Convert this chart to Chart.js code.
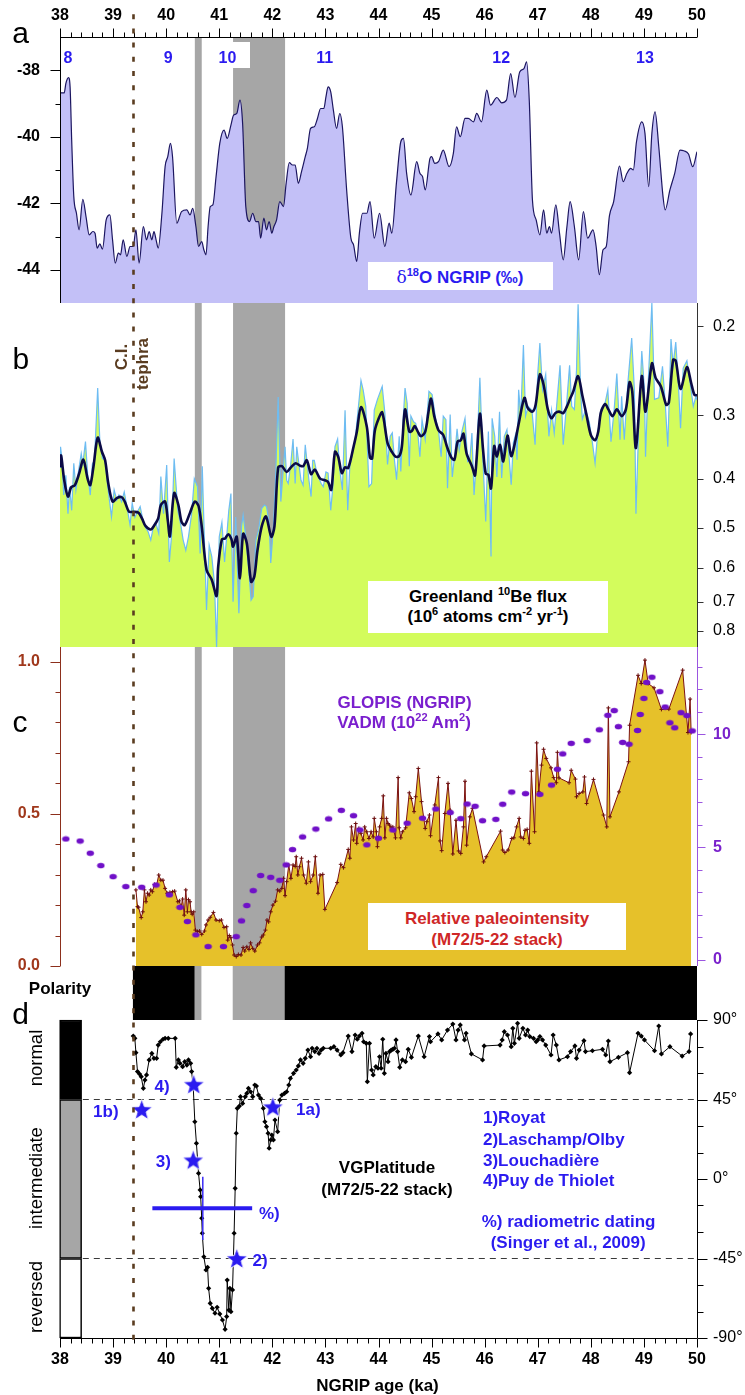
<!DOCTYPE html>
<html>
<head>
<meta charset="utf-8">
<title>NGRIP records around the Laschamp excursion</title>
<script src="https://cdn.jsdelivr.net/npm/chart.js@4.4.1/dist/chart.umd.min.js"></script>
<style>
  body { margin: 0; background: #fff; }
  #page { position: relative; width: 745px; height: 1395px; overflow: hidden; font-family: "Liberation Sans", Arial, sans-serif; }
  #page canvas { position: absolute; left: 0; }
  .lbl { position: absolute; white-space: nowrap; line-height: 1; transform: translate(-50%, -50%); font-weight: bold; font-size: 17px; }
  .lbl.left { transform: translate(0, -50%); }
  .lbl.rot { transform: translate(-50%, -50%) rotate(-90deg); }
  .box { position: absolute; background: #fff; }
  .panel { font-weight: normal; font-size: 30px; }
  .blue { color: #2b1bf0; }
  .purple { color: #7a1fce; }
  .red { color: #cf2727; }
  .brown { color: #5a3c20; }
  .word { font-weight: normal; font-size: 18.5px; }
  sup { font-size: 0.65em; line-height: 0; vertical-align: 0.55em; }
</style>
</head>
<body>
<div id="page">
  <canvas id="cA" width="745" height="303" style="top:0px"></canvas>
  <canvas id="cB" width="745" height="344" style="top:303px"></canvas>
  <canvas id="cC" width="745" height="333" style="top:647px"></canvas>
  <canvas id="cP" width="745" height="54" style="top:966px"></canvas>
  <canvas id="cD" width="745" height="395" style="top:1000px"></canvas>

  <div class="lbl panel" style="left:20.5px;top:32.6px">a</div>
  <div class="lbl panel" style="left:20.8px;top:358.6px">b</div>
  <div class="lbl panel" style="left:20px;top:721.6px">c</div>
  <div class="lbl panel" style="left:20.5px;top:1013.6px">d</div>

  <div class="box" style="left:213px;top:42px;width:37px;height:26px"></div>
  <div class="lbl blue" style="left:68px;top:57.5px;font-size:16px">8</div>
  <div class="lbl blue" style="left:168.3px;top:57.5px;font-size:16px">9</div>
  <div class="lbl blue" style="left:227.5px;top:57.5px;font-size:16px">10</div>
  <div class="lbl blue" style="left:324.7px;top:57.5px;font-size:16px">11</div>
  <div class="lbl blue" style="left:501.2px;top:57.5px;font-size:16px">12</div>
  <div class="lbl blue" style="left:645px;top:57.5px;font-size:16px">13</div>

  <div class="box" style="left:368px;top:262px;width:185px;height:28px"></div>
  <div class="lbl blue" style="left:460px;top:276.5px"><span style="font-weight:normal;font-family:'DejaVu Serif',serif">δ</span><sup>18</sup>O NGRIP (‰)</div>

  <div class="lbl rot brown" style="left:120.8px;top:357px">C.I.</div>
  <div class="lbl rot brown" style="left:141.7px;top:364px">tephra</div>

  <div class="box" style="left:368px;top:581px;width:240px;height:52px"></div>
  <div class="lbl" style="left:488px;top:595.5px">Greenland <sup>10</sup>Be flux</div>
  <div class="lbl" style="left:488px;top:616px">(10<sup>6</sup> atoms cm<sup>-2</sup> yr<sup>-1</sup>)</div>

  <div class="lbl purple" style="left:404.5px;top:702px">GLOPIS (NGRIP)</div>
  <div class="lbl purple" style="left:404px;top:722.3px">VADM (10<sup>22</sup> Am<sup>2</sup>)</div>

  <div class="box" style="left:368px;top:903px;width:258px;height:47px"></div>
  <div class="lbl red" style="left:497px;top:918.3px">Relative paleointensity</div>
  <div class="lbl red" style="left:497px;top:939px">(M72/5-22 stack)</div>

  <div class="lbl" style="left:60px;top:988px">Polarity</div>

  <div class="lbl rot word" style="left:36px;top:1058.3px">normal</div>
  <div class="lbl rot word" style="left:36px;top:1178px">intermediate</div>
  <div class="lbl rot word" style="left:36px;top:1297.3px">reversed</div>

  <div class="lbl" style="left:387px;top:1167px">VGPlatitude</div>
  <div class="lbl" style="left:387px;top:1189px">(M72/5-22 stack)</div>

  <div class="lbl blue" style="left:162px;top:1085.7px">4)</div>
  <div class="lbl blue" style="left:105.8px;top:1110.5px">1b)</div>
  <div class="lbl blue" style="left:308.3px;top:1108.8px">1a)</div>
  <div class="lbl blue" style="left:163.3px;top:1160.7px">3)</div>
  <div class="lbl blue" style="left:260px;top:1259.5px">2)</div>
  <div class="lbl blue" style="left:269.3px;top:1213.3px">%)</div>

  <div class="lbl left blue" style="left:483px;top:1117.3px">1)Royat</div>
  <div class="lbl left blue" style="left:483px;top:1138.8px">2)Laschamp/Olby</div>
  <div class="lbl left blue" style="left:483px;top:1159.5px">3)Louchadière</div>
  <div class="lbl left blue" style="left:483px;top:1179.5px">4)Puy de Thiolet</div>
  <div class="lbl left blue" style="left:481.7px;top:1220.8px">%) radiometric dating</div>
  <div class="lbl left blue" style="left:490.7px;top:1241.7px">(Singer et al., 2009)</div>

  <div class="lbl" style="left:377.5px;top:1385px">NGRIP age (ka)</div>
</div>

<script>
// ---- axis ticks ----
const ageTicks = [38, 39, 40, 41, 42, 43, 44, 45, 46, 47, 48, 49, 50];
const d18oTicks = [-44, -42, -40, -38];
const beTicks = [0.2, 0.3, 0.4, 0.5, 0.6, 0.7, 0.8];
const rpiTicks = [0, 0.5, 1.0];
const vadmTicks = [0, 5, 10];
const vgpTicks = [-90, -45, 0, 45, 90];

// ---- events ----
const tephraAge = 39.38;
const bandStart = [40.54, 41.26];
const bandEnd = [40.67, 42.24];
const polStart = [39.38, 40.54, 40.67, 41.26, 42.24];
const polEnd = [40.54, 40.67, 41.26, 42.24, 50.0];
const polState = ['normal', 'intermediate', 'reversed', 'intermediate', 'normal'];

// ---- a: d18O NGRIP ----
const d18oAge = [38.00,38.08,38.11,38.16,38.19,38.22,38.26,38.31,38.36,38.43,38.49,38.55,38.62,38.66,38.70,38.75,38.80,38.87,38.94,38.99,
  39.04,39.10,39.14,39.19,39.26,39.32,39.38,39.43,39.49,39.57,39.63,39.68,39.73,39.77,39.81,39.85,39.92,39.98,40.03,40.08,
  40.12,40.20,40.29,40.39,40.45,40.50,40.56,40.61,40.67,40.71,40.75,40.79,40.83,40.88,40.94,41.01,41.09,41.15,41.22,41.27,
  41.33,41.39,41.44,41.50,41.57,41.63,41.69,41.74,41.78,41.84,41.89,41.94,41.99,42.03,42.08,42.14,42.21,42.26,42.32,42.38,
  42.43,42.49,42.55,42.62,42.66,42.72,42.79,42.85,42.91,42.97,43.01,43.05,43.10,43.15,43.21,43.27,43.32,43.40,43.48,43.53,
  43.59,43.64,43.70,43.78,43.84,43.92,44.02,44.12,44.20,44.25,44.34,44.42,44.47,44.53,44.61,44.72,44.78,44.83,44.88,44.97,
  45.00,45.06,45.13,45.22,45.33,45.41,45.47,45.54,45.63,45.69,45.79,45.85,45.94,46.04,46.11,46.23,46.32,46.41,46.49,46.57,
  46.66,46.74,46.79,46.84,46.90,46.97,47.04,47.11,47.17,47.22,47.26,47.34,47.41,47.48,47.55,47.61,47.69,47.77,47.86,47.94,
  48.04,48.10,48.16,48.23,48.29,48.35,48.43,48.54,48.61,48.68,48.75,48.80,48.86,48.96,49.02,49.09,49.15,49.21,49.28,49.36,
  49.40,49.49,49.58,49.68,49.75,49.84,49.92,50.00];
const d18oVal = [-38.68,-38.68,-38.40,-38.22,-38.50,-40.10,-41.80,-42.30,-42.80,-41.88,-42.40,-42.95,-42.85,-42.90,-43.35,-43.22,-43.38,-42.50,-42.35,-43.10,
  -43.80,-43.50,-43.55,-43.10,-43.60,-43.30,-43.30,-42.80,-43.80,-42.70,-43.10,-42.85,-43.10,-42.85,-43.10,-43.35,-42.30,-40.90,-40.60,-40.20,
  -40.60,-42.60,-42.25,-42.20,-42.35,-42.15,-42.70,-43.30,-43.15,-43.40,-43.55,-42.70,-42.10,-42.05,-41.20,-40.20,-39.80,-40.05,-39.65,-39.35,
  -39.30,-38.90,-39.60,-42.10,-42.55,-42.30,-42.55,-42.55,-43.05,-42.45,-42.80,-42.55,-42.90,-42.70,-42.50,-41.95,-42.10,-41.40,-40.78,-40.85,
  -40.85,-41.40,-41.05,-40.60,-40.35,-39.75,-39.70,-39.45,-39.15,-39.15,-38.80,-38.50,-38.65,-39.20,-39.75,-39.30,-39.70,-41.60,-43.05,-43.25,
  -43.75,-42.90,-42.30,-42.30,-41.95,-43.05,-42.30,-43.30,-42.60,-42.90,-41.35,-40.15,-40.05,-41.10,-41.75,-40.75,-41.10,-41.20,-41.60,-40.65,
  -40.60,-40.80,-40.75,-40.40,-40.90,-40.50,-39.70,-40.00,-39.45,-39.45,-39.55,-39.30,-39.55,-38.60,-39.05,-38.82,-38.98,-38.90,-38.10,-38.82,
  -38.05,-37.95,-37.75,-38.90,-41.90,-42.50,-42.95,-42.20,-42.90,-42.70,-42.90,-42.05,-42.90,-43.70,-42.70,-41.95,-42.70,-43.70,-42.25,-43.05,
  -42.80,-43.30,-44.15,-43.40,-43.30,-42.38,-41.95,-40.88,-41.35,-41.10,-40.95,-41.00,-40.15,-39.55,-39.90,-41.50,-39.90,-39.25,-40.30,-41.80,
  -42.20,-41.60,-41.10,-40.40,-40.42,-40.52,-40.90,-40.45];

// ---- b: Greenland 10Be flux (raw and smoothed) ----
const beRawAge = [38.00,38.01,38.04,38.07,38.11,38.15,38.18,38.22,38.26,38.30,38.34,38.40,38.43,38.48,38.52,38.57,38.61,38.65,38.71,38.75,
  38.80,38.85,38.90,38.97,39.02,39.07,39.11,39.16,39.21,39.26,39.32,39.36,39.41,39.46,39.51,39.55,39.60,39.66,39.71,39.76,
  39.80,39.86,39.90,39.95,40.01,40.06,40.10,40.15,40.22,40.28,40.32,40.37,40.42,40.48,40.53,40.59,40.64,40.68,40.72,40.76,
  40.81,40.86,40.91,40.95,41.00,41.05,41.10,41.14,41.18,41.22,41.26,41.31,41.37,41.42,41.45,41.50,41.55,41.60,41.64,41.69,
  41.74,41.80,41.85,41.89,41.94,41.97,42.02,42.06,42.11,42.16,42.21,42.24,42.27,42.30,42.35,42.39,42.43,42.46,42.50,42.54,
  42.58,42.62,42.65,42.69,42.73,42.76,42.79,42.84,42.88,42.92,42.96,43.01,43.05,43.10,43.14,43.18,43.23,43.27,43.32,43.37,
  43.42,43.46,43.51,43.56,43.61,43.67,43.71,43.76,43.82,43.87,43.92,43.98,44.07,44.12,44.17,44.22,44.26,44.30,44.34,44.39,
  44.42,44.47,44.50,44.54,44.58,44.61,44.66,44.70,44.74,44.78,44.82,44.88,44.91,44.95,45.01,45.08,45.13,45.18,45.22,45.27,
  45.30,45.35,45.39,45.44,45.48,45.52,45.57,45.63,45.68,45.72,45.76,45.80,45.85,45.91,45.96,46.02,46.07,46.12,46.14,46.19,
  46.23,46.28,46.32,46.37,46.42,46.50,46.54,46.58,46.61,46.64,46.68,46.73,46.77,46.82,46.89,46.95,47.00,47.04,47.09,47.15,
  47.21,47.26,47.31,47.36,47.42,47.48,47.55,47.60,47.64,47.69,47.73,47.76,47.81,47.84,47.90,47.97,48.03,48.08,48.13,48.19,
  48.27,48.32,48.38,48.44,48.49,48.55,48.58,48.63,48.70,48.77,48.82,48.85,48.91,48.96,49.01,49.03,49.08,49.15,49.20,49.28,
  49.35,49.40,49.45,49.51,49.55,49.60,49.65,49.69,49.74,49.81,49.87,49.93,49.98,50.00];
const beRaw = [0.380,0.346,0.368,0.431,0.394,0.469,0.415,0.462,0.373,0.421,0.392,0.357,0.374,0.338,0.391,0.431,0.374,0.368,0.265,0.336,
  0.365,0.368,0.415,0.476,0.421,0.441,0.431,0.444,0.425,0.454,0.494,0.447,0.477,0.465,0.454,0.476,0.497,0.509,0.529,0.497,
  0.487,0.513,0.396,0.469,0.376,0.584,0.521,0.365,0.462,0.497,0.529,0.554,0.521,0.469,0.400,0.415,0.562,0.378,0.529,0.727,
  0.541,0.571,0.644,0.860,0.521,0.488,0.584,0.521,0.462,0.428,0.700,0.476,0.738,0.497,0.472,0.521,0.597,0.695,0.684,0.529,
  0.506,0.458,0.451,0.454,0.488,0.587,0.497,0.403,0.276,0.444,0.378,0.346,0.403,0.409,0.371,0.334,0.409,0.346,0.374,0.403,
  0.412,0.343,0.368,0.403,0.434,0.368,0.368,0.391,0.400,0.409,0.415,0.388,0.390,0.462,0.415,0.346,0.334,0.385,0.421,0.293,
  0.462,0.378,0.356,0.336,0.297,0.256,0.267,0.288,0.415,0.409,0.293,0.279,0.263,0.297,0.375,0.330,0.325,0.367,0.402,0.330,
  0.387,0.299,0.265,0.284,0.378,0.301,0.309,0.311,0.325,0.362,0.306,0.335,0.306,0.269,0.273,0.306,0.321,0.362,0.301,0.306,
  0.418,0.299,0.397,0.356,0.319,0.351,0.323,0.304,0.370,0.367,0.325,0.431,0.359,0.253,0.354,0.486,0.323,0.570,0.304,0.330,
  0.397,0.295,0.399,0.330,0.320,0.411,0.340,0.328,0.367,0.267,0.301,0.218,0.301,0.288,0.293,0.343,0.248,0.216,0.267,0.249,
  0.330,0.293,0.325,0.284,0.239,0.343,0.279,0.239,0.288,0.292,0.244,0.181,0.271,0.305,0.293,0.309,0.340,0.373,0.325,0.292,
  0.283,0.267,0.338,0.292,0.248,0.335,0.275,0.335,0.257,0.211,0.267,0.469,0.296,0.224,0.267,0.362,0.259,0.180,0.279,0.277,
  0.240,0.282,0.346,0.212,0.238,0.215,0.261,0.318,0.242,0.234,0.259,0.288,0.275,0.280];
const beSmoothAge = [38.00,38.02,38.08,38.15,38.21,38.28,38.36,38.44,38.52,38.57,38.63,38.71,38.79,38.85,38.91,38.99,39.07,39.16,39.22,39.30,
  39.38,39.48,39.55,39.61,39.71,39.78,39.85,39.90,39.98,40.03,40.07,40.15,40.23,40.29,40.35,40.45,40.54,40.61,40.67,40.76,
  40.86,40.95,40.98,41.05,41.11,41.17,41.23,41.26,41.33,41.39,41.45,41.52,41.60,41.66,41.72,41.80,41.88,41.98,42.04,42.11,
  42.18,42.27,42.35,42.44,42.52,42.58,42.65,42.73,42.80,42.90,42.99,43.05,43.11,43.18,43.24,43.31,43.37,43.43,43.53,43.59,
  43.67,43.78,43.84,43.88,43.93,44.00,44.07,44.17,44.25,44.32,44.39,44.44,44.50,44.58,44.63,44.68,44.74,44.80,44.88,44.94,
  44.99,45.05,45.13,45.22,45.29,45.37,45.43,45.49,45.55,45.60,45.66,45.76,45.82,45.91,45.97,46.02,46.07,46.12,46.18,46.23,
  46.29,46.35,46.43,46.50,46.57,46.65,46.75,46.81,46.90,46.96,47.04,47.11,47.19,47.26,47.33,47.40,47.48,47.55,47.61,47.67,
  47.76,47.84,47.92,48.00,48.08,48.14,48.19,48.27,48.33,48.41,48.49,48.58,48.66,48.73,48.78,48.85,48.96,49.03,49.15,49.22,
  49.32,49.42,49.47,49.55,49.60,49.69,49.81,49.89,49.95,50.00];
const beSmooth = [0.380,0.360,0.403,0.434,0.416,0.412,0.391,0.367,0.400,0.412,0.379,0.332,0.354,0.368,0.409,0.444,0.437,0.435,0.444,0.465,
  0.465,0.467,0.481,0.496,0.504,0.494,0.479,0.451,0.444,0.483,0.520,0.427,0.451,0.487,0.494,0.467,0.444,0.453,0.497,0.605,
  0.634,0.682,0.597,0.527,0.525,0.515,0.527,0.545,0.521,0.629,0.514,0.537,0.639,0.625,0.554,0.497,0.475,0.521,0.497,0.380,
  0.378,0.388,0.380,0.373,0.377,0.378,0.368,0.392,0.384,0.400,0.403,0.406,0.421,0.354,0.362,0.390,0.380,0.381,0.346,0.324,
  0.289,0.316,0.364,0.365,0.322,0.305,0.296,0.340,0.354,0.362,0.361,0.346,0.292,0.323,0.322,0.315,0.323,0.330,0.323,0.296,
  0.278,0.301,0.321,0.328,0.346,0.363,0.367,0.338,0.336,0.326,0.357,0.378,0.394,0.298,0.351,0.391,0.393,0.418,0.345,0.362,
  0.343,0.370,0.329,0.361,0.340,0.308,0.277,0.290,0.295,0.286,0.249,0.261,0.292,0.304,0.297,0.295,0.297,0.288,0.278,0.269,
  0.251,0.274,0.300,0.328,0.336,0.323,0.296,0.285,0.292,0.301,0.292,0.301,0.292,0.258,0.269,0.348,0.251,0.295,0.237,0.253,
  0.263,0.286,0.283,0.233,0.234,0.266,0.241,0.259,0.273,0.274];

// ---- c: relative paleointensity (M72/5-22) and GLOPIS VADM ----
const rpiAge = [39.43,39.46,39.48,39.53,39.56,39.59,39.62,39.65,39.68,39.71,39.74,39.78,39.82,39.86,39.90,39.94,39.98,40.02,40.07,40.12,
  40.16,40.22,40.25,40.28,40.31,40.34,40.37,40.40,40.42,40.45,40.47,40.49,40.52,40.55,40.59,40.63,40.67,40.72,40.75,40.79,
  40.83,40.89,40.94,41.00,41.04,41.09,41.14,41.16,41.19,41.22,41.25,41.28,41.32,41.36,41.41,41.45,41.48,41.52,41.56,41.59,
  41.63,41.67,41.72,41.76,41.80,41.83,41.87,41.90,41.93,41.97,42.01,42.06,42.10,42.14,42.18,42.21,42.24,42.27,42.31,42.35,
  42.39,42.43,42.45,42.48,42.51,42.55,42.59,42.64,42.68,42.72,42.77,42.81,42.86,42.90,42.95,42.99,43.22,43.29,43.34,43.43,
  43.46,43.49,43.53,43.57,43.59,43.63,43.67,43.71,43.74,43.78,43.82,43.86,43.90,43.92,43.96,43.98,44.02,44.06,44.09,44.12,
  44.15,44.18,44.21,44.24,44.27,44.32,44.37,44.39,44.42,44.45,44.51,44.58,44.62,44.67,44.70,44.75,44.81,44.88,44.91,44.96,
  44.98,45.06,45.13,45.16,45.19,45.25,45.31,45.35,45.40,45.46,45.51,45.55,45.60,45.63,45.66,45.72,45.77,45.98,46.03,46.30,
  46.34,46.38,46.44,46.51,46.55,46.60,46.65,46.68,46.73,46.76,46.80,46.84,46.88,46.94,46.98,47.02,47.07,47.11,47.16,47.25,
  47.30,47.35,47.37,47.40,47.59,47.63,47.71,47.73,47.78,47.85,47.88,47.92,48.05,48.24,48.30,48.33,48.36,48.53,48.71,48.73,
  48.89,48.95,49.02,49.08,49.19,49.33,49.47,49.73,49.83,49.87,49.89];
const rpiVal = [0.250,0.195,0.193,0.159,0.178,0.250,0.211,0.239,0.233,0.250,0.244,0.268,0.266,0.299,0.282,0.282,0.255,0.239,0.242,0.244,
  0.246,0.211,0.214,0.193,0.220,0.167,0.250,0.178,0.218,0.211,0.178,0.170,0.178,0.118,0.113,0.115,0.104,0.115,0.135,0.151,
  0.160,0.176,0.151,0.149,0.151,0.127,0.129,0.085,0.100,0.093,0.069,0.036,0.031,0.038,0.036,0.061,0.049,0.063,0.054,0.076,
  0.058,0.049,0.069,0.076,0.095,0.102,0.118,0.151,0.145,0.178,0.200,0.213,0.250,0.246,0.255,0.288,0.231,0.277,0.332,0.288,
  0.332,0.327,0.359,0.299,0.326,0.354,0.299,0.272,0.342,0.277,0.299,0.359,0.239,0.299,0.301,0.186,0.274,0.334,0.323,0.383,
  0.354,0.457,0.414,0.468,0.403,0.452,0.436,0.414,0.457,0.441,0.419,0.441,0.424,0.485,0.441,0.392,0.457,0.485,0.559,0.421,
  0.485,0.468,0.463,0.454,0.457,0.421,0.619,0.454,0.421,0.441,0.454,0.569,0.550,0.507,0.556,0.649,0.540,0.452,0.474,0.496,
  0.428,0.529,0.619,0.411,0.379,0.501,0.600,0.512,0.368,0.479,0.378,0.370,0.457,0.607,0.397,0.490,0.518,0.342,0.359,0.443,
  0.381,0.373,0.381,0.419,0.421,0.457,0.485,0.424,0.419,0.446,0.449,0.403,0.640,0.441,0.733,0.572,0.660,0.712,0.682,0.651,
  0.619,0.602,0.702,0.618,0.602,0.643,0.614,0.556,0.567,0.572,0.621,0.534,0.613,0.496,0.457,0.848,0.490,0.572,0.671,0.791,
  0.955,0.928,1.005,0.928,0.914,0.843,0.844,0.972,0.767,0.877,0.767];
const glopisAge = [38.11,38.38,38.57,38.77,39.00,39.24,39.54,39.81,40.06,40.26,40.40,40.56,40.79,41.08,41.32,41.42,41.52,41.64,41.78,41.97,
  42.14,42.26,42.38,42.57,42.82,43.06,43.30,43.53,43.65,43.78,44.00,44.27,44.54,44.83,45.08,45.35,45.55,45.67,45.82,45.96,
  46.21,46.34,46.51,46.77,47.04,47.26,47.37,47.47,47.63,47.93,48.16,48.32,48.44,48.52,48.60,48.72,48.88,48.93,49.00,49.05,
  49.15,49.30,49.40,49.49,49.58,49.70,49.81,49.91];
const glopisVadm = [5.36,5.27,4.73,4.18,3.69,3.25,3.22,3.32,2.88,2.33,1.70,1.11,0.59,0.59,1.03,1.73,2.41,3.07,3.74,3.66,
  3.53,4.21,4.89,5.45,5.80,6.25,6.63,6.39,5.76,5.10,5.39,5.76,6.06,6.28,6.69,6.53,6.26,6.91,6.81,6.17,
  6.23,6.90,7.44,7.37,7.34,7.75,8.45,9.13,9.60,9.72,10.20,10.84,11.05,10.34,9.64,9.56,10.17,10.88,11.59,12.30,
  12.53,11.89,11.21,10.51,10.29,10.96,10.83,10.15];

// ---- d: VGP latitude (M72/5-22 stack) ----
const vgpAge = [39.38,39.41,39.43,39.46,39.50,39.53,39.57,39.60,39.63,39.68,39.73,39.77,39.82,39.85,39.89,39.94,39.98,40.04,40.17,40.19,
  40.23,40.26,40.31,40.35,40.39,40.42,40.46,40.48,40.51,40.54,40.57,40.61,40.64,40.65,40.67,40.68,40.71,40.75,40.78,40.80,
  40.83,40.87,40.92,40.96,41.01,41.06,41.11,41.14,41.15,41.18,41.20,41.22,41.25,41.28,41.30,41.32,41.34,41.38,41.40,41.44,
  41.49,41.52,41.55,41.59,41.63,41.67,41.70,41.74,41.78,41.83,41.86,41.89,41.92,41.94,41.97,41.99,42.02,42.05,42.10,42.14,
  42.18,42.23,42.27,42.31,42.34,42.40,42.45,42.49,42.53,42.58,42.62,42.67,42.72,42.75,42.80,42.84,42.88,42.92,42.96,43.10,
  43.16,43.22,43.29,43.33,43.43,43.50,43.56,43.60,43.64,43.69,43.72,43.77,43.79,43.83,43.87,43.90,43.95,43.99,44.02,44.05,
  44.08,44.11,44.14,44.18,44.21,44.24,44.27,44.30,44.33,44.36,44.40,44.45,44.51,44.56,44.62,44.75,44.86,44.96,44.98,45.12,
  45.19,45.30,45.40,45.46,45.50,45.54,45.62,45.65,45.75,45.96,45.99,46.29,46.33,46.37,46.43,46.50,46.53,46.56,46.62,46.65,
  46.72,46.77,46.81,46.85,46.92,46.97,47.00,47.04,47.09,47.15,47.25,47.29,47.35,47.40,47.56,47.62,47.70,47.73,47.78,47.87,
  47.90,48.03,48.22,48.28,48.33,48.36,48.52,48.69,48.73,48.89,48.95,49.01,49.20,49.28,49.33,49.49,49.72,49.85,49.88];
const vgpLat = [80.9,79.6,71.5,60.8,59.4,57.9,51.3,56.0,58.9,67.4,71.1,68.3,68.3,75.8,77.7,79.1,79.6,79.6,79.6,63.2,
  67.4,65.5,63.6,66.4,64.5,67.4,65.5,60.8,52.0,32.4,20.2,3.2,-6.2,-10.0,-22.2,-30.7,-44.0,-51.5,-50.0,-61.9,
  -70.4,-73.2,-76.0,-72.6,-76.4,-79.8,-85.1,-77.9,-57.2,-74.2,-61.9,-75.1,-62.8,-30.7,-5.3,25.9,40.0,41.3,46.6,42.8,
  46.6,48.5,51.3,49.4,46.6,53.2,52.6,47.5,45.7,40.0,32.4,29.6,25.9,17.4,22.1,24.9,22.1,33.4,26.8,44.7,
  47.5,48.5,49.4,53.2,57.0,59.8,61.7,64.0,67.4,65.5,68.3,73.0,69.2,74.0,72.1,74.0,71.1,73.0,74.0,74.0,
  74.9,73.0,70.2,71.5,80.9,72.1,81.5,79.1,80.9,82.5,77.7,76.8,55.1,76.8,61.7,58.9,63.6,62.7,69.2,62.7,
  79.1,59.8,71.1,66.4,72.1,73.0,73.4,74.0,78.7,72.1,63.2,67.4,66.4,73.4,68.9,80.9,69.2,80.6,77.7,82.1,
  78.7,84.3,87.7,78.7,84.3,87.2,78.7,82.5,70.8,67.4,75.3,75.8,78.7,83.4,81.5,74.9,85.3,76.8,88.1,79.6,
  85.3,81.5,84.3,80.6,79.6,77.7,78.7,80.6,78.7,75.8,70.2,81.5,75.8,67.4,69.2,72.1,75.3,68.3,73.0,78.3,
  72.1,72.6,73.4,70.2,78.1,66.4,68.9,71.5,60.2,82.5,80.9,78.7,72.6,86.6,70.8,74.9,69.6,72.1,82.1];
const siteAge = [40.52, 39.54, 42.01, 40.51, 41.33];
const siteLat = [53.6, 39.4, 40.9, 10.8, -45.0];
const datingAge = [39.74, 41.62];      // radiometric age range (horizontal bar)
const datingAgeMid = 40.69;
const datingLat = [1.3, -34.5];        // latitude range (vertical bar)
const datingLatMid = -16.6;
const boxAge = 38.2;
const boxLatFrom = [45, -45, -90];
const boxLatTo = [90, 45, -45];

// ---- helpers ----
const xy = (xs, ys) => xs.map((x, i) => ({ x, y: ys[i] }));
const stepsBetween = (from, to, step, keep) => {
  const out = [];
  for (let v = from; v <= to + 1e-9; v += step) {
    const r = Math.round(v * 1000) / 1000;
    if (keep(r)) out.push(r);
  }
  return out;
};
const notInt = v => Math.abs(v - Math.round(v)) > 1e-6;
const ageMinor = stepsBetween(38, 50, 0.2, notInt);

Chart.defaults.font.family = '"Liberation Sans", Arial, sans-serif';
Chart.defaults.color = '#000';

// bands, hand-drawn tick marks and the tephra line
const panelDecor = {
  id: 'panelDecor',
  beforeDatasetsDraw(chart, args, o) {
    if (!o.bands) return;
    const { ctx, chartArea: a } = chart;
    const x = chart.scales.x;
    ctx.save();
    ctx.fillStyle = '#a6a6a6';
    bandStart.forEach((s, i) => {
      const x0 = x.getPixelForValue(s), x1 = x.getPixelForValue(bandEnd[i]);
      ctx.fillRect(x0, a.top, x1 - x0, a.bottom - a.top);
    });
    ctx.restore();
  },
  afterDatasetsDraw(chart, args, o) {
    const { ctx, chartArea: a } = chart;
    (o.axes || []).forEach(ax => {
      const s = chart.scales[ax.scale];
      const vertical = ax.side === 'left' || ax.side === 'right';
      const edge = Math.round(a[ax.side]) + 0.5;
      const dir = (ax.side === 'left' || ax.side === 'top') ? -1 : 1;
      ctx.save();
      ctx.strokeStyle = ax.color;
      ctx.lineWidth = 1;
      ctx.beginPath();
      if (vertical) { ctx.moveTo(edge, a.top); ctx.lineTo(edge, a.bottom); }
      else { ctx.moveTo(a.left, edge); ctx.lineTo(a.right, edge); }
      const mark = (v, len) => {
        const p = Math.round(s.getPixelForValue(v)) + 0.5;
        if (vertical) { ctx.moveTo(edge, p); ctx.lineTo(edge + dir * len, p); }
        else { ctx.moveTo(p, edge); ctx.lineTo(p, edge + dir * len); }
      };
      ax.major.forEach(v => mark(v, ax.majorLen));
      (ax.minor || []).forEach(v => mark(v, ax.minorLen));
      ctx.stroke();
      ctx.restore();
    });
    if (o.tephra) {
      const t = o.tephra;
      const x = Math.round(chart.scales.x.getPixelForValue(tephraAge)) + 0.5;
      const y1 = t.to === 'area' ? a.bottom + 2 : t.to;
      ctx.save();
      ctx.strokeStyle = '#5a3c20';
      ctx.lineWidth = 2.6;
      ctx.setLineDash([5, 9.2]);
      ctx.lineDashOffset = t.pageTop + t.from;
      ctx.beginPath();
      ctx.moveTo(x, t.from);
      ctx.lineTo(x, y1);
      ctx.stroke();
      ctx.restore();
    }
  }
};
Chart.register(panelDecor);

function baseOptions(padding, decor) {
  return {
    responsive: false, animation: false, devicePixelRatio: 1, events: [],
    layout: { autoPadding: false, padding },
    plugins: { legend: { display: false }, tooltip: { enabled: false }, panelDecor: decor }
  };
}
const noGrid = { display: false, drawTicks: false };
const fixTicks = list => scale => { scale.ticks = list.map(v => ({ value: v })); };
// fixed axis thickness, and no extra label padding pushed onto the plot area
const fitAxis = (w, h) => s => {
  if (w !== null) s.width = w;
  if (h !== null) s.height = h;
  s.paddingTop = 0; s.paddingBottom = 0; s.paddingLeft = 0; s.paddingRight = 0;
};
const boldTick = (size, color, padding, callback) => ({ font: { size, weight: 'bold' }, color, padding, autoSkip: false, maxRotation: 0, callback });
const ageAxis = (position, height) => ({
  type: 'linear', position, min: 38, max: 50, offset: false,
  grid: noGrid, border: { display: false },
  afterBuildTicks: fixTicks(ageTicks),
  afterFit: fitAxis(null, height),
  ticks: boldTick(16, '#000', 12, v => v)
});
const hiddenAge = { type: 'linear', min: 38, max: 50, display: false };

// star marker for the volcanic sites
function starMarker(r) {
  const c = document.createElement('canvas');
  const s = Math.ceil(r * 2 + 4);
  c.width = c.height = s;
  const g = c.getContext('2d');
  g.beginPath();
  for (let i = 0; i < 10; i++) {
    const rad = i % 2 ? r * 0.42 : r;
    const ang = -Math.PI / 2 + i * Math.PI / 5;
    g.lineTo(s / 2 + rad * Math.cos(ang), s / 2 + 1 + rad * Math.sin(ang));
  }
  g.closePath();
  g.fillStyle = '#2b1bf0';
  g.fill();
  g.strokeStyle = 'rgba(255,255,255,0.9)';
  g.lineWidth = 1;
  g.stroke();
  return c;
}
// small horizontal ellipse for the GLOPIS dots
function ellipseMarker() {
  const c = document.createElement('canvas');
  c.width = 9; c.height = 7;
  const g = c.getContext('2d');
  g.beginPath();
  g.ellipse(4.5, 3.5, 3.7, 2.8, 0, 0, Math.PI * 2);
  g.fillStyle = '#7010c8';
  g.fill();
  return c;
}

// ---- a ----
new Chart(document.getElementById('cA'), {
  type: 'line',
  data: { datasets: [{
    data: xy(d18oAge, d18oVal), borderColor: '#1c1660', borderWidth: 1.2, backgroundColor: '#c3c0f7',
    fill: 'start', pointRadius: 0, cubicInterpolationMode: 'monotone'
  }] },
  options: Object.assign(baseOptions({ left: 0, right: 48, top: 0, bottom: 0 }, {
    bands: true,
    tephra: { pageTop: 0, from: 10, to: 303 },
    axes: [
      { scale: 'x', side: 'top', color: '#000', major: ageTicks, minor: ageMinor, majorLen: 9, minorLen: 5 },
      { scale: 'y', side: 'left', color: '#000', major: d18oTicks, minor: [-45, -43, -41, -39], majorLen: 10, minorLen: 5 }
    ]
  }), {
    scales: {
      x: ageAxis('top', 37),
      y: { min: -45, max: -37, grid: noGrid, border: { display: false },
        afterBuildTicks: fixTicks(d18oTicks), afterFit: fitAxis(60, null),
        ticks: boldTick(16, '#000', 20, v => v) }
    }
  })
});

// ---- b ----
new Chart(document.getElementById('cB'), {
  type: 'line',
  data: { datasets: [
    { data: xy(beSmoothAge, beSmooth), borderColor: '#0b0a45', borderWidth: 2.6, pointRadius: 0, fill: false, tension: 0.3 },
    { data: xy(beRawAge, beRaw), borderColor: '#6dbcf3', borderWidth: 1.2, backgroundColor: '#d3fc5c', pointRadius: 0, fill: 'start', tension: 0 }
  ] },
  options: Object.assign(baseOptions({ left: 60, right: 0, top: 0, bottom: 0 }, {
    bands: true,
    tephra: { pageTop: 303, from: 0, to: 344 },
    axes: [{ scale: 'y', side: 'right', color: '#333', major: beTicks, majorLen: 6 }]
  }), {
    scales: {
      x: hiddenAge,
      y: { type: 'logarithmic', position: 'right', reverse: true, min: 0.18, max: 0.86,
        grid: noGrid, border: { display: false },
        afterBuildTicks: fixTicks(beTicks), afterFit: fitAxis(48, null),
        ticks: { font: { size: 16 }, color: '#000', padding: 16, autoSkip: false, callback: v => Number(v).toFixed(1) } }
    }
  })
});

// ---- c ----
new Chart(document.getElementById('cC'), {
  type: 'line',
  data: { datasets: [
    { type: 'scatter', data: xy(glopisAge, glopisVadm), yAxisID: 'y2', pointStyle: ellipseMarker(), pointRadius: 3.5, clip: 6 },
    { data: xy(rpiAge, rpiVal), yAxisID: 'y', borderColor: '#7b1113', borderWidth: 1, backgroundColor: '#e6c12a',
      fill: 'origin', pointStyle: 'cross', pointRadius: 2, pointBorderColor: '#6b0f0f', pointBorderWidth: 1, tension: 0 }
  ] },
  options: Object.assign(baseOptions({ left: 0, right: 0, top: 0, bottom: 14 }, {
    bands: true,
    tephra: { pageTop: 647, from: 0, to: 319 },
    axes: [
      { scale: 'y', side: 'left', color: '#8c2f1c', major: rpiTicks, minor: [0.1, 0.2, 0.3, 0.4, 0.6, 0.7, 0.8, 0.9], majorLen: 10, minorLen: 5 },
      { scale: 'y2', side: 'right', color: '#9b55e0', major: vadmTicks, minor: [1, 2, 3, 4, 6, 7, 8, 9, 11, 12, 13], majorLen: 8, minorLen: 5 }
    ]
  }), {
    scales: {
      x: hiddenAge,
      y: { position: 'left', min: 0, max: 1.048, grid: noGrid, border: { display: false },
        afterBuildTicks: fixTicks(rpiTicks), afterFit: fitAxis(60, null),
        ticks: boldTick(16, '#a0381c', 20, v => Number(v).toFixed(1)) },
      y2: { position: 'right', min: -0.27, max: 13.87, grid: noGrid, border: { display: false },
        afterBuildTicks: fixTicks(vadmTicks), afterFit: fitAxis(48, null),
        ticks: boldTick(16, '#7a22cc', 16, v => v) }
    }
  })
});

// ---- polarity ----
const polColor = { normal: '#000000', intermediate: '#a6a6a6', reversed: '#ffffff' };
new Chart(document.getElementById('cP'), {
  type: 'bar',
  data: { labels: ['Polarity'], datasets: [{
    data: polStart.map((s, i) => ({ y: 'Polarity', x: [s, polEnd[i]] })),
    backgroundColor: polState.map(s => polColor[s]), borderWidth: 0,
    barPercentage: 1, categoryPercentage: 1
  }] },
  options: Object.assign(baseOptions({ left: 60, right: 48, top: 0, bottom: 0 }, {
    tephra: { pageTop: 966, from: 0, to: 54 }
  }), {
    indexAxis: 'y',
    scales: { x: hiddenAge, y: { display: false } }
  })
});

// ---- d ----
const star = starMarker(11.2);
new Chart(document.getElementById('cD'), {
  type: 'line',
  data: { datasets: [
    { type: 'scatter', data: xy(siteAge, siteLat), pointStyle: star, pointRadius: 11, clip: false },
    { data: [{ x: datingAge[0], y: datingLatMid }, { x: datingAge[1], y: datingLatMid }], borderColor: '#2b1bf0', borderWidth: 4, pointRadius: 0 },
    { data: [{ x: datingAgeMid, y: datingLat[0] }, { x: datingAgeMid, y: datingLat[1] }], borderColor: '#3b2cf5', borderWidth: 1.5, pointRadius: 0 },
    { data: xy(vgpAge, vgpLat), borderColor: '#000', borderWidth: 1, pointStyle: 'rectRot', pointRadius: 2.6,
      pointBackgroundColor: '#000', pointBorderWidth: 0, tension: 0, clip: 6 },
    { data: [{ x: 38.43, y: 45 }, { x: 50, y: 45 }], borderColor: '#3a3a3a', borderWidth: 1, borderDash: [6, 5], pointRadius: 0 },
    { data: [{ x: 38.43, y: -45 }, { x: 50, y: -45 }], borderColor: '#3a3a3a', borderWidth: 1, borderDash: [6, 5], pointRadius: 0 },
    { type: 'bar', data: boxLatFrom.map((f, i) => ({ x: boxAge, y: [f, boxLatTo[i]] })),
      backgroundColor: ['#000000', '#a6a6a6', '#ffffff'], borderColor: '#000', borderWidth: 1.5,
      borderSkipped: false, barThickness: 22, grouped: false, clip: false }
  ] },
  options: Object.assign(baseOptions({ left: 60, right: 0, top: 20, bottom: 0 }, {
    tephra: { pageTop: 1000, from: 20, to: 'area' },
    axes: [
      { scale: 'x', side: 'bottom', color: '#000', major: ageTicks, minor: ageMinor, majorLen: 9, minorLen: 5 },
      { scale: 'y', side: 'right', color: '#000', major: vgpTicks, minor: [-75, -60, -30, -15, 15, 30, 60, 75], majorLen: 10, minorLen: 6 }
    ]
  }), {
    scales: {
      x: ageAxis('bottom', 57),
      y: { position: 'right', min: -90, max: 90, grid: noGrid, border: { display: false },
        afterBuildTicks: fixTicks(vgpTicks), afterFit: fitAxis(48, null),
        ticks: { font: { size: 16 }, color: '#000', padding: 16, autoSkip: false, callback: v => v + '°' } }
    }
  })
});
</script>
</body>
</html>
